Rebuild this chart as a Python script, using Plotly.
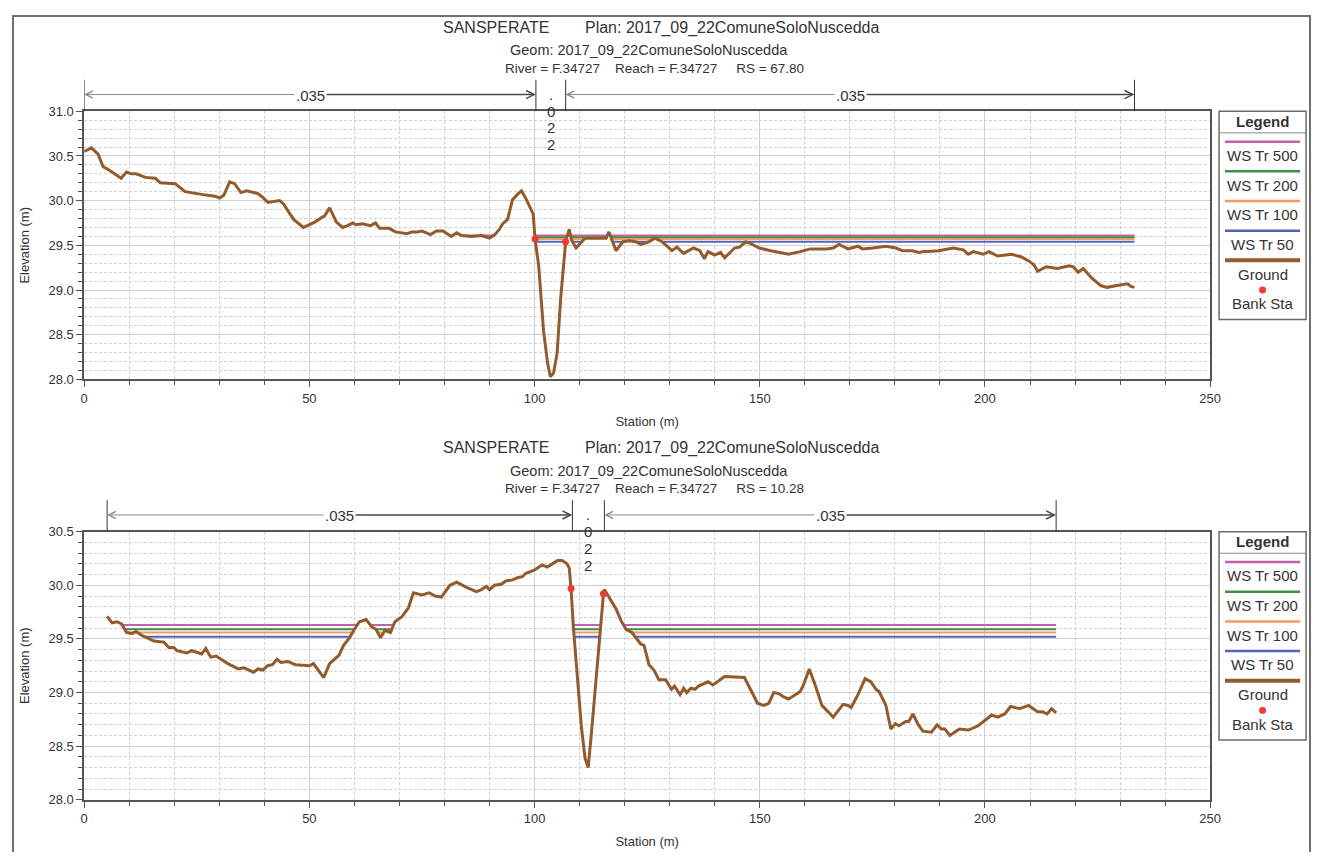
import plotly.graph_objects as go

# ------------------------------------------------------------------ data
ws_names = ["WS Tr 500", "WS Tr 200", "WS Tr 100", "WS Tr 50"]

# Cross section RS = 67.80 (upper chart)
top_rs = "67.80"
top_station = [0.0, 1.6, 3.1, 4.2, 5.6, 7.8, 8.2, 9.4, 10.4, 11.5,
               13.6, 15.8, 16.9, 20.2, 22.4, 26.1, 29.0, 30.1, 31.0, 32.3,
               33.4, 34.8, 36.1, 38.5, 39.6, 40.8, 43.4, 44.3, 46.5, 48.7,
               51.2, 52.7, 53.4, 54.5, 56.0, 57.4, 58.5, 59.6, 60.4, 61.8,
               63.6, 64.7, 65.6, 67.7, 69.1, 71.7, 72.8, 73.9, 75.0, 76.9,
               78.2, 79.7, 81.5, 82.7, 83.8, 86.0, 88.2, 90.0, 91.2, 92.2,
               92.9, 94.0, 95.1, 96.2, 97.1, 98.0, 99.7, 100.1, 100.9, 102.0,
               102.9, 103.5, 104.2, 105.0, 105.8, 106.9, 107.7, 108.2, 109.2, 110.1,
               111.2, 113.0, 115.9, 116.5, 117.0, 118.1, 119.6, 121.0, 122.5, 123.6,
               125.4, 126.7, 128.3, 130.5, 131.6, 133.1, 135.3, 136.7, 137.7, 138.5,
               140.0, 141.3, 142.2, 143.3, 144.4, 145.5, 146.9, 148.0, 149.9, 152.4,
               156.4, 159.0, 161.2, 164.8, 166.3, 167.6, 169.6, 171.8, 172.8, 175.1,
               178.0, 180.2, 181.7, 183.9, 185.3, 186.4, 187.5, 189.7, 193.0, 195.2,
               196.3, 197.4, 199.6, 200.9, 202.8, 205.9, 208.1, 209.9, 210.9, 211.7,
               213.6, 216.1, 218.7, 219.6, 220.7, 221.8, 223.8, 225.7, 227.1, 229.3,
               231.7, 232.4, 233.2]
top_elev = [30.55, 30.59, 30.52, 30.38, 30.34, 30.26, 30.25, 30.32, 30.30, 30.30,
            30.26, 30.25, 30.20, 30.19, 30.10, 30.07, 30.05, 30.03, 30.06, 30.21,
            30.19, 30.09, 30.11, 30.08, 30.04, 29.98, 30.00, 29.96, 29.79, 29.70,
            29.76, 29.81, 29.83, 29.92, 29.76, 29.70, 29.72, 29.75, 29.73, 29.74,
            29.72, 29.75, 29.69, 29.69, 29.65, 29.63, 29.65, 29.65, 29.66, 29.62,
            29.66, 29.66, 29.60, 29.64, 29.61, 29.60, 29.61, 29.58, 29.62, 29.68,
            29.74, 29.79, 30.01, 30.07, 30.11, 30.03, 29.85, 29.57, 29.28, 28.54,
            28.18, 28.03, 28.07, 28.29, 28.91, 29.54, 29.68, 29.56, 29.47, 29.52,
            29.58, 29.58, 29.58, 29.65, 29.58, 29.44, 29.54, 29.55, 29.54, 29.51,
            29.54, 29.58, 29.54, 29.44, 29.48, 29.41, 29.47, 29.44, 29.35, 29.43,
            29.39, 29.42, 29.36, 29.41, 29.47, 29.48, 29.54, 29.52, 29.47, 29.44,
            29.40, 29.43, 29.46, 29.46, 29.47, 29.51, 29.46, 29.49, 29.46, 29.47,
            29.49, 29.47, 29.44, 29.44, 29.42, 29.43, 29.43, 29.44, 29.47, 29.45,
            29.40, 29.43, 29.40, 29.43, 29.38, 29.40, 29.37, 29.32, 29.28, 29.21,
            29.26, 29.24, 29.27, 29.26, 29.20, 29.24, 29.13, 29.05, 29.03, 29.05,
            29.07, 29.04, 29.03]
top_bank_station = [100.1, 106.9]
top_bank_elev = [29.57, 29.54]
top_ws_elev = [29.61, 29.59, 29.57, 29.54]
top_n_breaks = [0.0, 100.3, 106.9, 233.2]
top_n_values = [".035", ".022", ".035"]

# Cross section RS = 10.28 (lower chart)
bot_rs = "10.28"
bot_station = [5.1, 6.2, 7.3, 8.3, 9.4, 10.6, 11.5, 12.9, 15.5, 17.7,
               18.8, 19.9, 20.6, 22.8, 23.9, 26.1, 27.0, 28.1, 29.3, 31.9,
               34.2, 35.5, 37.6, 38.6, 39.7, 40.7, 41.8, 42.8, 43.7, 45.2,
               46.9, 50.1, 50.9, 53.2, 54.5, 56.6, 57.6, 58.9, 60.0, 61.1,
               62.6, 63.9, 64.8, 65.8, 66.8, 68.0, 69.0, 70.6, 72.0, 73.1,
               75.0, 76.6, 77.9, 79.3, 81.2, 82.7, 84.9, 87.1, 88.2, 89.3,
               90.0, 91.1, 92.6, 93.6, 95.1, 96.2, 97.3, 98.0, 99.9, 101.7,
               102.8, 103.9, 105.1, 106.1, 107.2, 107.7, 108.1, 108.6, 109.5, 110.4,
               111.2, 111.9, 112.6, 113.6, 114.5, 115.3, 115.5, 117.0, 118.1, 119.2,
               120.3, 121.6, 122.8, 123.6, 124.3, 125.4, 126.5, 127.6, 129.1, 130.4,
               131.1, 132.3, 133.1, 133.8, 134.7, 135.6, 136.4, 138.5, 139.6, 140.6,
               142.2, 146.6, 148.0, 149.5, 150.9, 152.0, 153.1, 154.2, 155.3, 156.4,
               157.9, 159.0, 159.7, 161.0, 162.3, 163.8, 165.2, 166.3, 168.5, 169.6,
               170.3, 171.8, 173.4, 174.7, 175.8, 176.5, 178.0, 179.1, 180.1, 180.9,
               182.4, 183.1, 184.0, 185.2, 186.2, 188.1, 189.4, 190.3, 191.1, 192.2,
               194.3, 196.3, 198.5, 201.5, 202.8, 204.4, 205.7, 207.7, 209.7, 211.7,
               212.8, 213.8, 214.8, 215.8]
bot_elev = [29.71, 29.65, 29.66, 29.64, 29.56, 29.55, 29.57, 29.53, 29.48, 29.47,
            29.42, 29.42, 29.39, 29.37, 29.39, 29.36, 29.41, 29.33, 29.34, 29.27,
            29.22, 29.23, 29.19, 29.22, 29.21, 29.25, 29.26, 29.31, 29.28, 29.29,
            29.26, 29.25, 29.27, 29.14, 29.27, 29.35, 29.44, 29.51, 29.59, 29.66,
            29.68, 29.61, 29.59, 29.51, 29.58, 29.56, 29.66, 29.71, 29.79, 29.93,
            29.91, 29.93, 29.90, 29.89, 30.00, 30.03, 29.98, 29.94, 29.96, 29.99,
            29.96, 30.00, 30.01, 30.04, 30.05, 30.07, 30.08, 30.11, 30.14, 30.19,
            30.17, 30.20, 30.23, 30.23, 30.20, 30.16, 29.97, 29.62, 29.13, 28.68,
            28.39, 28.30, 28.61, 29.10, 29.59, 29.92, 29.96, 29.85, 29.78, 29.67,
            29.59, 29.56, 29.50, 29.45, 29.44, 29.26, 29.21, 29.12, 29.12, 29.03,
            29.06, 28.98, 29.04, 29.00, 29.04, 29.03, 29.06, 29.10, 29.07, 29.10,
            29.15, 29.14, 29.03, 28.90, 28.88, 28.90, 29.00, 28.99, 28.96, 28.94,
            28.98, 29.01, 29.07, 29.22, 29.07, 28.88, 28.82, 28.77, 28.89, 28.88,
            28.86, 28.98, 29.13, 29.10, 29.03, 29.01, 28.88, 28.66, 28.71, 28.69,
            28.73, 28.73, 28.80, 28.70, 28.64, 28.63, 28.70, 28.66, 28.66, 28.60,
            28.66, 28.65, 28.69, 28.79, 28.77, 28.80, 28.87, 28.85, 28.88, 28.82,
            28.82, 28.80, 28.85, 28.81]
bot_bank_station = [108.1, 115.3]
bot_bank_elev = [29.97, 29.92]
bot_ws_elev = [29.63, 29.59, 29.56, 29.52]
bot_n_breaks = [5.1, 108.4, 115.5, 215.8]
bot_n_values = [".035", ".022", ".035"]

x_ticks = [0, 50, 100, 150, 200, 250]

# ------------------------------------------------------------------ styles
PAGE_PAD = 8                      # default body margin of the page
W, H = 1330 - 2 * PAGE_PAD, 860 - 2 * PAGE_PAD
FONT = "Liberation Sans, Arial, sans-serif"
TXT = "#333333"
ws_colors = ["#c062ac", "#3f8f46", "#f59a66", "#5563b8"]
GROUND = "#935a2c"
BANK = "#f03a32"


def px(x):
    """page pixel x -> paper fraction"""
    return (x - PAGE_PAD) / W


def py(y):
    """page pixel y -> paper fraction"""
    return 1 - (y - PAGE_PAD) / H


def wet_line(gx, gy, level):
    """Water surface drawn over the parts of the section below the level."""
    xs, ys = [], []
    for i in range(len(gx) - 1):
        x0, y0, x1, y1 = gx[i], gy[i], gx[i + 1], gy[i + 1]
        if y0 >= level and y1 >= level:
            continue
        a, b = x0, x1
        if y0 > level or y1 > level:
            t = (level - y0) / (y1 - y0)
            xc = x0 + t * (x1 - x0)
            if y0 > level:
                a = xc
            else:
                b = xc
        if xs and xs[-1] is not None and abs(xs[-1] - a) < 1e-9:
            xs.append(b)
            ys.append(level)
        else:
            if xs:
                xs.append(None)
                ys.append(None)
            xs += [a, b]
            ys += [level, level]
    return xs, ys


def text_anno(text, x, y, size, xref="paper", **kw):
    d = dict(text=text, x=x, y=y, xref=xref, yref="paper", showarrow=False,
             xanchor="center", yanchor="middle",
             font=dict(size=size, color=TXT, family=FONT))
    d.update(kw)
    return d


panels = [
    dict(xa="x", ya="y", st=top_station, el=top_elev, bx=top_bank_station,
         by=top_bank_elev, ws=top_ws_elev, nb=top_n_breaks, nv=top_n_values,
         rs=top_rs, off=0, yr=[28, 31]),
    dict(xa="x2", ya="y2", st=bot_station, el=bot_elev, bx=bot_bank_station,
         by=bot_bank_elev, ws=bot_ws_elev, nb=bot_n_breaks, nv=bot_n_values,
         rs=bot_rs, off=428, yr=[28, 30.5]),
]

fig = go.Figure()
shapes, annos = [], []

# outer frame
shapes.append(dict(type="rect", xref="paper", yref="paper", x0=px(9), x1=px(1321),
                   y0=-0.05, y1=py(9), line=dict(color="#6f6f6f", width=2)))

NB = "\u00a0"
for p in panels:
    off = p["off"]
    for name, lvl, col in zip(ws_names, p["ws"], ws_colors):
        wx, wy = wet_line(p["st"], p["el"], lvl)
        fig.add_trace(go.Scatter(x=wx, y=wy, mode="lines", name=name,
                                 line=dict(color=col, width=2), xaxis=p["xa"],
                                 yaxis=p["ya"], showlegend=False, hoverinfo="skip"))
    fig.add_trace(go.Scatter(x=p["st"], y=p["el"], mode="lines", name="Ground",
                             line=dict(color=GROUND, width=3), xaxis=p["xa"],
                             yaxis=p["ya"], showlegend=False))
    fig.add_trace(go.Scatter(x=p["bx"], y=p["by"], mode="markers", name="Bank Sta",
                             marker=dict(color=BANK, size=7), xaxis=p["xa"],
                             yaxis=p["ya"], showlegend=False))

    # titles
    annos.append(text_anno("SANSPERATE" + NB * 8 + "Plan: 2017_09_22ComuneSoloNuscedda",
                           px(665), py(21 + off), 16))
    annos.append(text_anno("Geom: 2017_09_22ComuneSoloNuscedda",
                           px(652), py(44 + off), 14.5))
    annos.append(text_anno("River = F.34727" + NB * 4 + "Reach = F.34727" + NB * 5 +
                           "RS = " + p["rs"], px(658), py(62 + off), 13.5))

    # Manning's n band
    for b in p["nb"]:
        shapes.append(dict(type="line", xref=p["xa"], yref="paper", x0=b, x1=b,
                           y0=py(106 + off), y1=py(74 + off),
                           line=dict(color="#333333", width=1)))
    for i, nval in enumerate(p["nv"]):
        a, b = p["nb"][i], p["nb"][i + 1]
        mid = (a + b) / 2
        width_px = (b - a) * (1139 / 250)
        if width_px > 60:
            annos.append(dict(x=a, y=py(89 + off), xref=p["xa"], yref="paper",
                              ax=mid, axref=p["xa"], ay=0, ayref="pixel", text="",
                              showarrow=True, arrowhead=5, arrowsize=1.4,
                              arrowwidth=1, arrowcolor="#8a8a8a", standoff=0))
            annos.append(dict(x=b, y=py(89 + off), xref=p["xa"], yref="paper",
                              ax=mid, axref=p["xa"], ay=0, ayref="pixel", text="",
                              showarrow=True, arrowhead=5, arrowsize=1.0,
                              arrowwidth=1.6, arrowcolor="#4a4a4a", standoff=0))
            annos.append(text_anno(nval, mid, py(90 + off), 15, xref=p["xa"],
                                   bgcolor="white", borderpad=1))
        else:
            for k, ch in enumerate(nval):
                annos.append(text_anno(ch, mid, py(89 + 17 * k + off), 15,
                                       xref=p["xa"]))

    # custom legend box
    shapes.append(dict(type="rect", xref="paper", yref="paper", x0=px(1229), x1=px(1317),
                       y0=py(318 + off), y1=py(106 + off),
                       line=dict(color="#6a6a6a", width=1.5), fillcolor="white"))
    shapes.append(dict(type="line", xref="paper", yref="paper", x0=px(1229), x1=px(1317),
                       y0=py(128 + off), y1=py(128 + off),
                       line=dict(color="#8a8a8a", width=1)))
    annos.append(text_anno("<b>Legend</b>", px(1273), py(116 + off), 15))
    for k, (name, col) in enumerate(zip(ws_names + ["Ground"], ws_colors + [GROUND])):
        ys = 137 + 30.2 * k + off
        shapes.append(dict(type="line", xref="paper", yref="paper", x0=px(1235),
                           x1=px(1311), y0=py(ys), y1=py(ys),
                           line=dict(color=col, width=4 if name == "Ground" else 2.5)))
        annos.append(text_anno(name, px(1273), py(ys + 14), 15))
    shapes.append(dict(type="circle", xref="paper", yref="paper", x0=px(1269.5),
                       x1=px(1276.5), y0=py(291.5 + off), y1=py(284.5 + off),
                       line=dict(color=BANK, width=0), fillcolor=BANK))
    annos.append(text_anno("Bank Sta", px(1273), py(302 + off), 15))


def xaxis_def(anchor, title_text):
    return dict(domain=[px(81), px(1220)], range=[0, 250], anchor=anchor,
                tickmode="array", tickvals=x_ticks, ticks="outside", ticklen=6,
                tickcolor="#555", tickwidth=1, showline=True, linecolor="#555",
                linewidth=1.5, mirror=True, showgrid=True, gridcolor="#cfcfcf",
                gridwidth=1, zeroline=False,
                minor=dict(dtick=10, tick0=0, ticks="outside", ticklen=4,
                           tickcolor="#555", showgrid=True, gridcolor="#d2d2d2",
                           griddash="3px,2px", gridwidth=1),
                tickfont=dict(size=13, color=TXT, family=FONT),
                title=dict(text=title_text, standoff=12,
                           font=dict(size=13, color=TXT, family=FONT)))


def yaxis_def(anchor, dom, rng):
    return dict(domain=dom, range=rng, anchor=anchor, dtick=0.5, tick0=28,
                tickformat=".1f", ticks="outside", ticklen=6, tickcolor="#555",
                showline=True, linecolor="#555", linewidth=1.5, mirror=True,
                showgrid=True, gridcolor="#cfcfcf", gridwidth=1, zeroline=False,
                minor=dict(dtick=0.1, tick0=28, ticks="outside", ticklen=4,
                           tickcolor="#555", showgrid=True, gridcolor="#d2d2d2",
                           griddash="3px,2px", gridwidth=1),
                tickfont=dict(size=13, color=TXT, family=FONT),
                title=dict(text="Elevation (m)", standoff=16,
                           font=dict(size=13, color=TXT, family=FONT)))


fig.update_layout(
    width=W, height=H, margin=dict(l=0, r=0, t=0, b=0),
    paper_bgcolor="white", plot_bgcolor="white", showlegend=False,
    font=dict(family=FONT, color=TXT),
    xaxis=xaxis_def("y", "Station (m)"),
    yaxis=yaxis_def("x", [py(379), py(106)], panels[0]["yr"]),
    xaxis2=xaxis_def("y2", "Station (m)"),
    yaxis2=yaxis_def("x2", [py(807), py(534)], panels[1]["yr"]),
    shapes=shapes, annotations=annos,
)

fig.write_html("out.html", config={"displayModeBar": False})
